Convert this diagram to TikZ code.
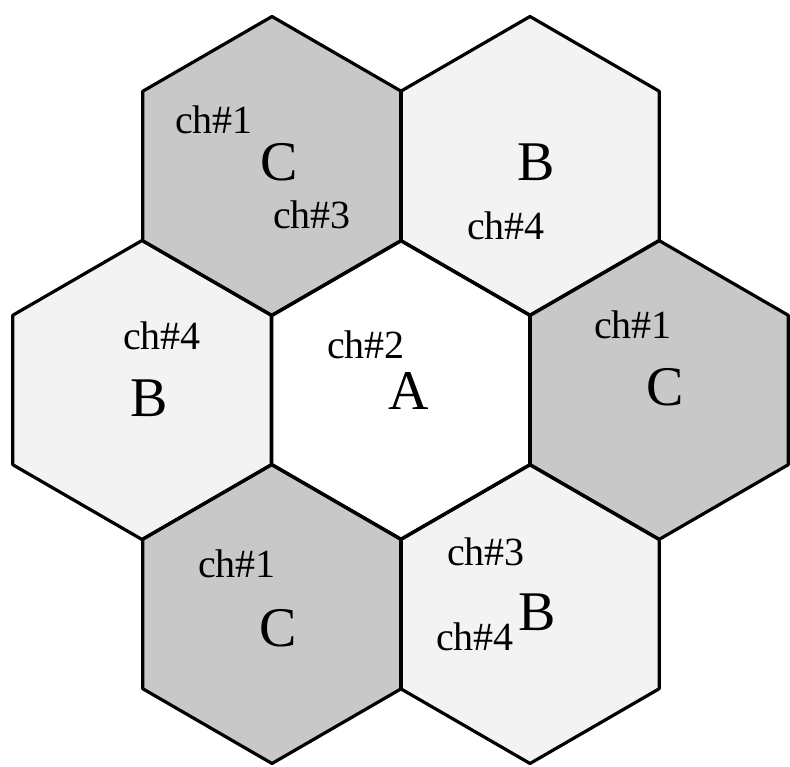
\documentclass[tikz,border=0pt]{standalone}
\usepackage{fontspec}
\setmainfont{Liberation Serif}
\definecolor{cgray}{HTML}{C8C8C8}
\definecolor{blight}{HTML}{F3F3F3}
\begin{document}
\begin{tikzpicture}[x=1pt,y=-1pt,
  hexline/.style={line width=3.2pt,line join=round},
  small/.style={anchor=base,inner sep=0pt,font=\fontsize{40}{44}\selectfont},
  big/.style={anchor=base,inner sep=0pt,font=\fontsize{56}{60}\selectfont}]
\useasboundingbox (0,0) rectangle (790,767);
\fill[white] (0,0) rectangle (790,767);
\def\hh{129.2}
\def\hs{149.5}
\def\hq{74.75}
\newcommand\hexpath[2]{(#1,#2-\hs) -- (#1+\hh,#2-\hq) -- (#1+\hh,#2+\hq) -- (#1,#2+\hs) -- (#1-\hh,#2+\hq) -- (#1-\hh,#2-\hq) -- cycle}
% fills
\fill[white]  \hexpath{401}{390};
\fill[cgray]  \hexpath{272}{166};
\fill[blight] \hexpath{530}{166};
\fill[blight] \hexpath{142}{390};
\fill[cgray]  \hexpath{659}{390};
\fill[cgray]  \hexpath{272}{614};
\fill[blight] \hexpath{530}{614};
% outlines
\draw[hexline] \hexpath{401}{390};
\draw[hexline] \hexpath{272}{166};
\draw[hexline] \hexpath{530}{166};
\draw[hexline] \hexpath{142}{390};
\draw[hexline] \hexpath{659}{390};
\draw[hexline] \hexpath{272}{614};
\draw[hexline] \hexpath{530}{614};
% labels
\node[small] (ul1) at (214,134) {ch\#1};
\node[big]   (ulC) at (279,181) {C};
\node[small] (ul3) at (312,229) {ch\#3};
\node[big]   (urB) at (536,181) {B};
\node[small] (ur4) at (506,240) {ch\#4};
\node[small] (l4)  at (162,349) {ch\#4};
\node[big]   (lB)  at (149,416) {B};
\node[small] (a2)  at (366,359) {ch\#2};
\node[big]   (aA)  at (409,409) {A};
\node[small] (r1)  at (633,338) {ch\#1};
\node[big]   (rC)  at (665,405) {C};
\node[small] (ll1) at (237,577) {ch\#1};
\node[big]   (llC) at (278,646) {C};
\node[small] (lr3) at (486,565) {ch\#3};
\node[big]   (lrB) at (537,630) {B};
\node[small] (lr4) at (475,650) {ch\#4};
\end{tikzpicture}
\end{document}
